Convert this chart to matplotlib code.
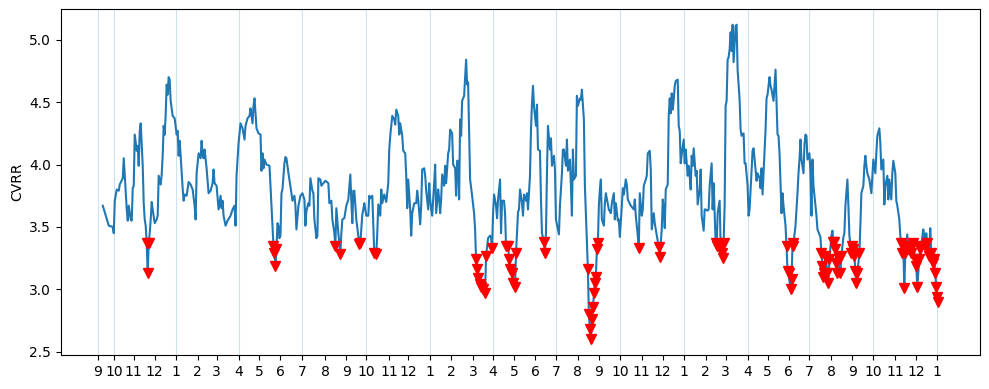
import numpy as np
import matplotlib
matplotlib.use("Agg")
import matplotlib.pyplot as plt

# trading-day index of each reading (0 = first day of the series) and CVRR value
day = [
    5, 11, 15, 16, 17, 19, 21, 22, 25, 26, 27, 29, 30, 31, 33, 34, 35, 36, 37, 39,
    40, 41, 42, 43, 45, 46, 47, 48, 49, 50, 51, 52, 53, 54, 55, 57, 59, 60, 61, 63,
    64, 65, 66, 67, 68, 69, 70, 71, 72, 73, 75, 77, 79, 80, 81, 82, 83, 85, 86, 87,
    89, 91, 93, 95, 97, 98, 99, 101, 103, 104, 105, 106, 107, 109, 111, 113, 115, 116, 117, 119,
    121, 123, 124, 125, 126, 128, 130, 133, 135, 137, 138, 139, 141, 143,
    145, 147, 148, 150, 152, 153, 155, 156, 157, 159, 161, 163, 164, 165, 166, 167, 169, 172, 174, 176,
    177, 178, 179, 180, 181, 182, 183, 184, 185, 187, 188, 189, 191, 194, 195, 197, 198, 199, 201, 203,
    205, 207, 208, 209, 211, 212, 213, 215, 216, 217, 219, 220, 221, 223, 224, 226, 228, 231, 232, 234,
    235, 237, 238, 239, 241, 243, 244, 245, 247, 249, 251, 253, 254, 255, 256, 257, 259, 261, 262, 263,
    265, 266, 267, 269, 271, 272, 273, 275, 276, 277, 279,
    280, 281, 283, 284, 285, 287, 289, 291, 292, 293, 295, 297, 298, 299, 301, 302, 303, 305, 306, 308,
    309, 310, 311, 313, 314, 315, 317, 319, 320, 321, 323, 324, 325, 327, 328, 329, 331, 332, 333, 334,
    335, 337, 338, 339, 341, 342, 343, 344, 345, 347, 348, 349, 351, 352, 353, 355, 356, 358, 359, 360,
    361, 362, 363, 364, 365, 367, 368, 369, 370, 371, 373, 375, 377, 378, 379, 380, 381, 383, 384, 386,
    388, 389, 391, 393, 394, 395, 396, 397, 399, 400, 401, 403, 404, 405, 407, 408, 409, 411, 412, 413,
    415, 416, 418, 419, 420, 421, 422, 423,
    425, 426, 427, 429, 430, 431, 433, 434, 435, 436, 437, 439, 440, 441, 443, 444, 445, 447, 448, 449,
    450, 451, 453, 454, 455, 457, 458, 459, 461, 462, 463, 465, 466, 467, 469, 470, 471, 473, 474, 475,
    476, 477, 479, 480, 481, 483, 484, 485, 487, 488, 489, 491, 492, 493, 494, 495, 496, 497, 498, 499,
    500, 501, 502, 503, 504, 505, 507, 508, 509, 511, 512, 514, 515, 517, 518, 519, 521, 522, 523, 525,
    526, 527, 529, 530, 531, 534, 537, 538, 539, 541, 542, 543, 545, 546, 547, 549, 550, 551, 553, 554,
    555, 557, 558, 559, 562, 563,
    565, 566, 567, 568, 569, 571, 572, 573, 574, 575, 576, 577, 578, 579, 581, 582, 583, 584, 585, 587,
    588, 589, 591, 592, 593, 594, 595, 596, 597, 599, 600, 601, 603, 604, 605, 607, 608, 609, 611, 612,
    613, 615, 616, 617, 618, 619, 620, 621, 623, 624, 625, 626, 627, 628, 629, 630, 631, 632, 633, 634,
    635, 636, 637, 639, 640, 641, 643, 644, 645, 647, 648, 649, 651, 652, 653, 655, 656, 657, 659, 660,
    661, 663, 664, 665, 666, 667, 669, 670, 671, 673, 674, 675, 677, 678, 679, 681, 682, 683, 685, 686,
    687, 689, 690, 691, 692, 694, 695, 696, 697, 699,
    701, 702, 703, 704, 705, 707, 708, 709, 710, 711, 713, 714, 715, 716, 717, 719, 720, 721, 723, 724,
    725, 726, 727, 728, 729, 731, 732, 733, 735, 736, 737, 738, 739, 740, 741, 743, 744, 745, 747, 748,
    749, 751, 752, 753, 755, 756, 757, 758, 759, 760, 761, 763, 764, 765, 767, 768, 769, 770, 771, 773,
    775, 776, 777, 779, 780, 781, 783, 784, 785, 787, 788, 789, 791, 792, 793, 795, 796, 797, 799, 800,
    801, 803, 804, 805, 806, 807, 808, 809, 811, 812, 813, 815, 816, 817, 819, 820, 821, 823, 824, 825,
    827, 828, 829, 830, 831, 833, 834, 835, 837, 838, 839, 840, 841, 842,
]
cvrr = [
    3.67, 3.51, 3.50, 3.45, 3.71, 3.80, 3.79, 3.84, 3.89, 4.05, 3.91, 3.64, 3.55, 3.67, 3.56, 3.55, 3.81, 3.83, 4.24, 4.11,
    4.15, 3.99, 4.27, 4.33, 3.99, 3.69, 3.56, 3.51, 3.37, 3.13, 3.37, 3.45, 3.56, 3.70, 3.64, 3.53, 3.56, 3.59, 3.91, 3.84,
    3.92, 4.07, 4.31, 4.24, 4.40, 4.64, 4.56, 4.70, 4.68, 4.51, 4.39, 4.37, 4.24, 4.27, 4.07, 4.19, 4.07, 3.81, 3.71, 3.76,
    3.75, 3.86, 3.84, 3.80, 3.67, 3.56, 3.93, 4.09, 4.05, 4.19, 4.08, 4.05, 4.12, 3.97, 3.77, 3.79, 3.85, 3.96, 3.85, 3.83,
    3.64, 3.75, 3.65, 3.71, 3.59, 3.51, 3.55, 3.59, 3.64, 3.67, 3.51, 3.91, 4.17, 4.33,
    4.29, 4.20, 4.31, 4.37, 4.39, 4.45, 4.33, 4.47, 4.53, 4.29, 4.25, 4.24, 3.95, 4.09, 3.97, 4.04, 4.00, 3.99, 3.67, 3.35,
    3.29, 3.19, 3.32, 3.53, 3.51, 3.41, 3.43, 3.77, 3.80, 4.01, 4.06, 4.05, 3.93, 3.77, 3.71, 3.75, 3.67, 3.48, 3.67, 3.75,
    3.77, 3.72, 3.51, 3.63, 3.69, 3.67, 3.89, 3.79, 3.77, 3.56, 3.41, 3.43, 3.89, 3.88, 3.83, 3.85, 3.87, 3.85, 3.69, 3.71,
    3.56, 3.45, 3.35, 3.65, 3.45, 3.28, 3.45, 3.56, 3.57, 3.67, 3.72, 3.92, 3.71, 3.53, 3.79, 3.79, 3.56, 3.43, 3.36, 3.37,
    3.60, 3.64, 3.69, 3.59, 3.59, 3.75, 3.73, 3.75, 3.51, 3.29, 3.28,
    3.45, 3.68, 3.59, 3.80, 3.69, 3.76, 3.70, 3.85, 4.12, 4.23, 4.39, 4.36, 4.32, 4.44, 4.39, 4.24, 4.33, 4.23, 4.11, 4.09,
    3.91, 3.65, 3.88, 3.64, 3.43, 3.61, 3.69, 3.69, 3.79, 3.72, 3.52, 3.67, 3.96, 3.97, 3.91, 3.79, 3.64, 3.85, 3.72, 3.64,
    3.59, 3.85, 4.00, 3.61, 3.80, 3.72, 3.61, 3.72, 3.92, 3.83, 3.99, 3.85, 4.09, 4.12, 4.28, 4.25, 4.00, 3.97, 3.75, 4.03,
    4.03, 3.72, 4.36, 4.23, 4.51, 4.55, 4.70, 4.84, 4.64, 4.66, 3.88, 3.75, 3.61, 3.48, 3.24, 3.16, 3.09, 3.04, 3.02, 3.00,
    2.97, 3.27, 3.41, 3.43, 3.41, 3.33, 3.61, 3.76, 3.67, 3.57, 3.72, 3.88, 3.45, 3.71, 3.71, 3.61, 3.35, 3.35, 3.24, 3.16,
    3.13, 3.05, 3.02, 3.29, 3.45, 3.62, 3.64, 3.80,
    3.69, 3.59, 3.76, 3.71, 3.77, 3.64, 3.91, 4.28, 4.49, 4.63, 4.47, 4.31, 4.48, 4.12, 4.11, 3.72, 3.45, 3.38, 3.29, 3.45,
    3.93, 4.31, 4.12, 4.21, 3.99, 4.07, 3.96, 3.56, 3.48, 3.44, 3.67, 3.93, 4.12, 4.12, 3.99, 4.20, 3.95, 4.04, 3.83, 3.59,
    4.12, 3.88, 3.91, 4.55, 4.47, 4.53, 4.52, 4.60, 4.36, 3.83, 3.61, 3.16, 2.80, 2.68, 2.60, 2.76, 2.86, 2.97, 3.05, 3.10,
    3.32, 3.37, 3.67, 3.80, 3.88, 3.56, 3.51, 3.69, 3.77, 3.68, 3.64, 3.61, 3.69, 3.77, 3.56, 3.69, 3.55, 3.56, 3.42, 3.67,
    3.81, 3.76, 3.88, 3.84, 3.72, 3.67, 3.64, 3.72, 3.59, 3.43, 3.33, 3.77, 3.59, 3.64, 3.83, 3.88, 3.91, 4.09, 4.11, 3.96,
    3.48, 3.61, 3.53, 3.48, 3.34, 3.26,
    3.48, 3.72, 3.65, 3.49, 3.80, 3.84, 4.39, 4.53, 4.41, 4.57, 4.44, 4.52, 4.63, 4.67, 4.68, 4.31, 4.27, 4.01, 4.08, 4.20,
    4.01, 4.12, 3.91, 3.99, 3.91, 3.80, 4.07, 3.99, 4.13, 3.91, 3.95, 3.68, 3.80, 3.96, 3.59, 3.47, 3.64, 3.64, 3.63, 3.64,
    3.83, 4.01, 3.64, 3.85, 3.61, 3.37, 3.35, 3.61, 3.71, 3.35, 3.29, 3.25, 3.37, 3.67, 4.47, 4.51, 4.84, 4.86, 4.92, 5.06,
    4.91, 5.12, 4.82, 5.11, 5.12, 4.76, 4.52, 4.28, 4.23, 4.25, 4.01, 4.01, 3.83, 3.59, 3.64, 3.96, 4.11, 4.13, 3.96, 3.87,
    3.93, 3.89, 3.81, 3.97, 3.76, 3.93, 4.28, 4.53, 4.56, 4.70, 4.63, 4.60, 4.51, 4.63, 4.76, 4.24, 4.23, 4.09, 3.61, 3.77,
    3.67, 3.51, 3.35, 3.15, 3.13, 3.00, 3.08, 3.35, 3.37, 3.51,
    3.77, 3.93, 4.04, 4.20, 4.04, 3.93, 4.16, 4.24, 4.23, 4.04, 4.09, 3.93, 3.59, 4.04, 3.83, 3.67, 3.59, 3.48, 3.44, 3.42,
    3.29, 3.19, 3.10, 3.13, 3.27, 3.13, 3.05, 3.24, 3.43, 3.47, 3.38, 3.38, 3.32, 3.21, 3.13, 3.24, 3.13, 3.27, 3.42, 3.45,
    3.67, 3.88, 3.67, 3.43, 3.29, 3.35, 3.32, 3.27, 3.15, 3.05, 3.13, 3.29, 3.51, 3.77, 3.83, 3.99, 4.07, 3.99, 3.93, 3.88,
    3.77, 3.91, 4.04, 3.93, 4.09, 4.23, 4.29, 4.17, 3.96, 4.04, 3.68, 3.83, 3.91, 3.72, 3.88, 3.72, 3.93, 4.03, 3.93, 3.71,
    3.67, 3.56, 3.43, 3.37, 3.29, 3.35, 3.01, 3.29, 3.44, 3.32, 3.35, 3.29, 3.35, 3.37, 3.24, 3.19, 3.02, 3.24, 3.32, 3.35,
    3.48, 3.43, 3.35, 3.45, 3.37, 3.27, 3.49, 3.29, 3.21, 3.24, 3.13, 3.02, 2.94, 2.90,
]
threshold = 3.4

# first trading day of each month
tick_days = [0, 16, 36, 57, 78, 100, 119, 141, 162, 183, 205, 228, 249, 269, 292, 311,
             333, 354, 376, 396, 417, 438, 459, 481, 502, 523, 545, 566, 587, 609, 629,
             651, 671, 692, 713, 735, 756, 777, 799, 820, 841]
tick_labels = ['9', '10', '11', '12'] + [str(m) for m in range(1, 13)] * 3 + ['1']
# start of series and start of each quarter
quarter_days = [0, 16, 78, 141, 205, 269, 333, 396, 459, 523, 587, 651, 713, 777, 841]

day = np.array(day)
cvrr = np.array(cvrr)
low = cvrr < threshold

fig, ax = plt.subplots(figsize=(9.89, 3.89), dpi=100)
for d in quarter_days:
    ax.axvline(d, color='C0', alpha=0.22, lw=0.8, zorder=1)
ax.plot(day, cvrr, color='C0', lw=1.5, zorder=2)
ax.plot(day[low], cvrr[low], 'v', color='red', ms=7, zorder=3)

span = day.max() - day.min()
ax.set_xlim(day.min() - 0.05 * span, day.max() + 0.05 * span)
ax.set_xticks(tick_days)
ax.set_xticklabels(tick_labels)
ax.set_ylabel('CVRR')

fig.subplots_adjust(left=0.0617, right=0.9909, bottom=0.0874, top=0.9769)
fig.savefig('out.png', dpi=100)
